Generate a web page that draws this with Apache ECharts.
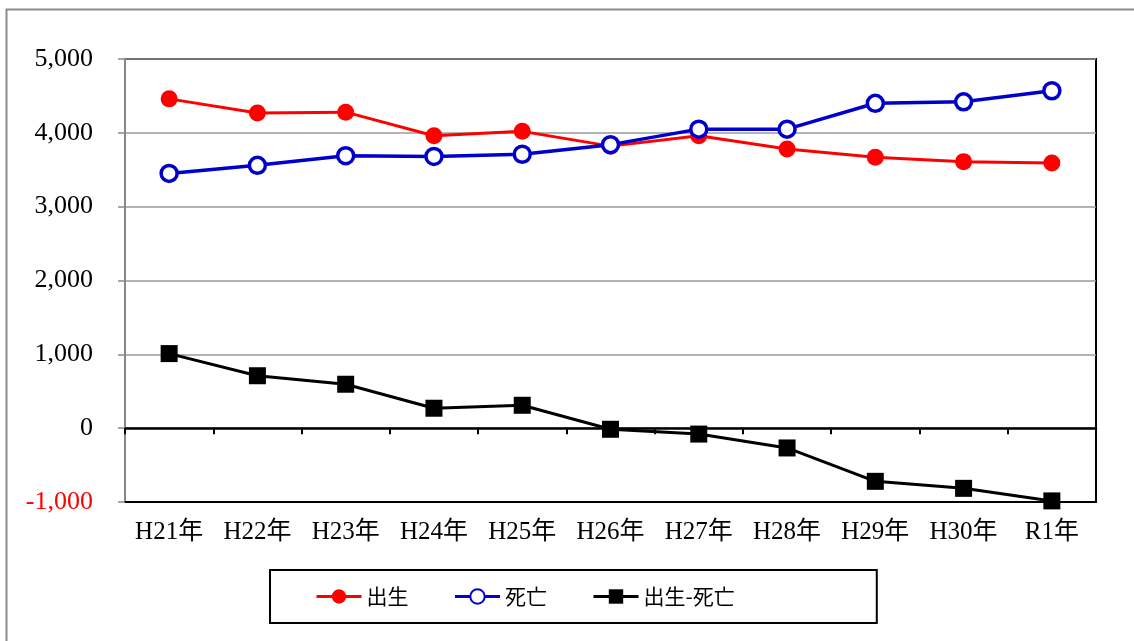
<!DOCTYPE html>
<html>
<head>
<meta charset="utf-8">
<script src="https://cdn.jsdelivr.net/npm/echarts@6/dist/echarts.min.js"></script>
<style>
html,body{margin:0;padding:0;background:#fff;}
#chart{width:1134px;height:641px;}
</style>
</head>
<body>
<div id="chart"></div>
<script>
var categories = ['H21年','H22年','H23年','H24年','H25年','H26年','H27年','H28年','H29年','H30年','R1年'];
var births = [4460, 4270, 4280, 3960, 4020, 3820, 3960, 3780, 3670, 3610, 3590];
var deaths = [3450, 3560, 3690, 3680, 3710, 3840, 4050, 4050, 4400, 4420, 4570];
var netChange = [1010, 710, 595, 270, 310, -15, -80, -268, -720, -815, -985];
var seriesNames = ['出生', '死亡', '出生-死亡'];
var yMin = -1000, yMax = 5000, yStep = 1000;

var serif = "'Liberation Serif', 'Noto Sans CJK JP', serif";
var chart = echarts.init(document.getElementById('chart'));
chart.setOption({
  animation: false,
  backgroundColor: '#fff',
  graphic: [{
    type: 'rect', left: 4, top: 7, silent: true,
    shape: {width: 1160, height: 660},
    style: {fill: 'none', stroke: '#8c8c8c', lineWidth: 2}
  }],
  grid: {left: 125, top: 59, right: 38, bottom: 139, show: true, borderColor: '#000', borderWidth: 2, backgroundColor: 'transparent'},
  legend: {
    left: 270, top: 570,
    data: seriesNames,
    itemWidth: 45, itemHeight: 18, itemGap: 45,
    padding: [16, 142, 16, 45],
    borderColor: '#000', borderWidth: 2, borderRadius: 0,
    lineStyle: {width: 3},
    textStyle: {fontSize: 21, color: '#000', fontFamily: "'Noto Sans CJK JP', sans-serif"}
  },
  xAxis: [{
    type: 'category', data: categories, position: 'bottom', boundaryGap: true,
    axisLine: {onZero: false, lineStyle: {color: '#000', width: 2}},
    axisTick: {show: false},
    axisLabel: {interval: 0, margin: 18, fontSize: 25, color: '#000', fontFamily: serif},
    splitLine: {show: false}
  }, {
    type: 'category', data: categories, position: 'top', boundaryGap: true,
    axisLine: {onZero: true, onZeroAxisIndex: 0, lineStyle: {color: '#000', width: 2.5}},
    axisTick: {show: true, inside: true, length: 6, interval: 0, lineStyle: {color: '#000', width: 2}},
    axisLabel: {show: false},
    splitLine: {show: false}
  }],
  yAxis: {
    type: 'value', min: yMin, max: yMax, interval: yStep,
    axisLine: {show: true, lineStyle: {color: '#888', width: 2}},
    axisTick: {show: true, length: 7, lineStyle: {color: '#888', width: 1.5}},
    splitLine: {show: true, lineStyle: {color: '#9a9a9a', width: 1.5}},
    axisLabel: {
      margin: 32, fontSize: 26, fontFamily: serif,
      formatter: function (v) { return v.toLocaleString('en-US'); },
      color: function (v) { return Number(v) < 0 ? '#ff0000' : '#000'; }
    }
  },
  series: [{
    name: seriesNames[0], type: 'line', data: births, xAxisIndex: 0,
    symbol: 'circle', symbolSize: 17,
    lineStyle: {color: '#ff0000', width: 3},
    itemStyle: {color: '#ff0000'}
  }, {
    name: seriesNames[1], type: 'line', data: deaths, xAxisIndex: 0,
    symbol: 'circle', symbolSize: 16,
    lineStyle: {color: '#0000cc', width: 3.5},
    itemStyle: {color: '#fff', borderColor: '#0000cc', borderWidth: 3.5}
  }, {
    name: seriesNames[2], type: 'line', data: netChange, xAxisIndex: 0,
    symbol: 'rect', symbolSize: 17,
    lineStyle: {color: '#000', width: 3},
    itemStyle: {color: '#000'}
  }]
});
</script>
</body>
</html>
